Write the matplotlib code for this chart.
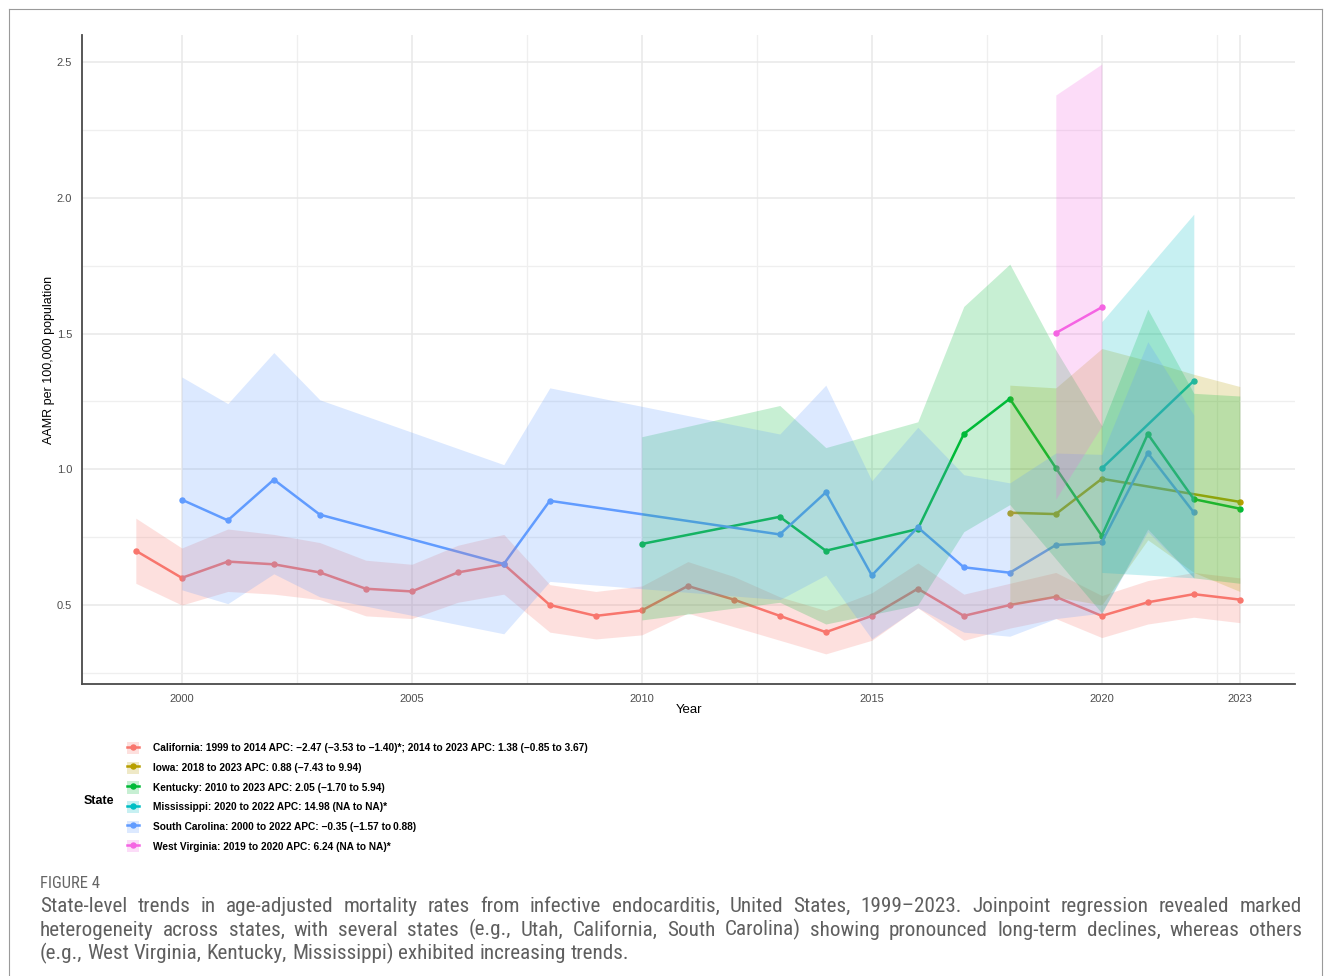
import matplotlib.pyplot as plt
from matplotlib import font_manager
from matplotlib.lines import Line2D
from matplotlib.patches import Patch

W, H = 1331, 976

# ---- data ----
ca_years = [1999, 2000, 2001, 2002, 2003, 2004, 2005, 2006, 2007, 2008, 2009, 2010, 2011,
            2012, 2013, 2014, 2015, 2016, 2017, 2018, 2019, 2020, 2021, 2022, 2023]
ca_rate = [0.70, 0.60, 0.66, 0.65, 0.62, 0.56, 0.55, 0.62, 0.65, 0.50, 0.46, 0.48, 0.57,
           0.52, 0.46, 0.40, 0.46, 0.56, 0.46, 0.50, 0.53, 0.46, 0.51, 0.54, 0.52]
ca_lo = [0.58, 0.50, 0.55, 0.54, 0.52, 0.46, 0.45, 0.51, 0.54, 0.40, 0.375, 0.39, 0.47,
         0.42, 0.37, 0.32, 0.37, 0.49, 0.37, 0.415, 0.45, 0.38, 0.43, 0.455, 0.435]
ca_hi = [0.82, 0.71, 0.78, 0.76, 0.73, 0.665, 0.65, 0.72, 0.76, 0.575, 0.55, 0.57, 0.66,
         0.605, 0.53, 0.48, 0.545, 0.655, 0.54, 0.58, 0.62, 0.535, 0.59, 0.62, 0.60]

ia_years = [2018, 2019, 2020, 2023]
ia_rate = [0.84, 0.835, 0.965, 0.88]
ia_band_years = [2018, 2019, 2020, 2021, 2022, 2023]
ia_lo = [0.50, 0.53, 0.50, 0.74, 0.62, 0.55]
ia_hi = [1.31, 1.30, 1.445, 1.40, 1.35, 1.305]

ky_years = [2010, 2013, 2014, 2016, 2017, 2018, 2019, 2020, 2021, 2022, 2023]
ky_rate = [0.725, 0.825, 0.70, 0.78, 1.13, 1.26, 1.005, 0.755, 1.13, 0.89, 0.855]
ky_lo = [0.445, 0.51, 0.43, 0.50, 0.77, 0.87, 0.67, 0.47, 0.78, 0.60, 0.58]
ky_hi = [1.12, 1.235, 1.08, 1.175, 1.60, 1.756, 1.44, 1.16, 1.59, 1.28, 1.27]

ms_years = [2020, 2022]
ms_rate = [1.003, 1.326]
ms_lo = [0.62, 0.60]
ms_hi = [1.544, 1.94]

sc_years = [2000, 2001, 2002, 2003, 2007, 2008, 2013, 2014, 2015, 2016, 2017, 2018,
            2019, 2020, 2021, 2022]
sc_rate = [0.888, 0.812, 0.962, 0.833, 0.651, 0.884, 0.760, 0.915, 0.609, 0.786, 0.639,
           0.619, 0.721, 0.731, 1.060, 0.841]
sc_lo = [0.556, 0.505, 0.615, 0.53, 0.394, 0.587, 0.52, 0.61, 0.375, 0.49, 0.40, 0.385,
         0.45, 0.47, 0.77, 0.60]
sc_hi = [1.34, 1.242, 1.43, 1.256, 1.017, 1.30, 1.13, 1.31, 0.958, 1.155, 0.98, 0.95,
         1.06, 1.055, 1.47, 1.20]

wv_years = [2019, 2020]
wv_rate = [1.502, 1.597]
wv_lo = [0.89, 1.16]
wv_hi = [2.379, 2.493]

labels = [
    "California: 1999 to 2014 APC: \u22122.47 (\u22123.53 to \u22121.40)*; 2014 to 2023 APC: 1.38 (\u22120.85 to 3.67)",
    "Iowa: 2018 to 2023 APC: 0.88 (\u22127.43 to 9.94)",
    "Kentucky: 2010 to 2023 APC: 2.05 (\u22121.70 to 5.94)",
    "Mississippi: 2020 to 2022 APC: 14.98 (NA to NA)*",
    "South Carolina: 2000 to 2022 APC: \u22120.35 (\u22121.57 to\u20090.88)",
    "West Virginia: 2019 to 2020 APC: 6.24 (NA to NA)*",
]
colors = ["#F8766D", "#B79F00", "#00BA38", "#00BFC4", "#619CFF", "#F564E3"]

caption_lines = [
    "State-level trends in age-adjusted mortality rates from infective endocarditis, "
    "United States, 1999\u20132023. Joinpoint regression revealed marked",
    "heterogeneity across states, with several states (e.g., Utah, California, South "
    "Carolina) showing pronounced long-term declines, whereas others",
    "(e.g., West Virginia, Kentucky, Mississippi) exhibited increasing trends.",
]

plt.rcParams['font.family'] = ['Liberation Sans', 'DejaVu Sans']

fig = plt.figure(figsize=(W / 100, H / 100), dpi=100)
ax = fig.add_axes([82 / W, 1 - 684 / H, (1295 - 82) / W, (684 - 35) / H])

bands = [(ca_years, ca_lo, ca_hi), (ia_band_years, ia_lo, ia_hi), (ky_years, ky_lo, ky_hi),
         (ms_years, ms_lo, ms_hi), (sc_years, sc_lo, sc_hi), (wv_years, wv_lo, wv_hi)]
lines = [(ca_years, ca_rate), (ia_years, ia_rate), (ky_years, ky_rate),
         (ms_years, ms_rate), (sc_years, sc_rate), (wv_years, wv_rate)]

# lines first, ribbons drawn over them (as in the source figure)
for (x, y), c in zip(lines, colors):
    ax.plot(x, y, color=c, lw=1.8, marker='o', ms=3.6, zorder=2)
for (x, lo, hi), c in zip(bands, colors):
    ax.fill_between(x, lo, hi, color=c, alpha=0.22, lw=0, zorder=3)

ax.set_xlim(1997.83, 2024.2)
ax.set_ylim(0.209, 2.6)
ax.set_xticks([2000, 2005, 2010, 2015, 2020, 2023])
ax.set_xticks([2002.5, 2007.5, 2012.5, 2017.5, 2022.5], minor=True)
ax.set_yticks([0.5, 1.0, 1.5, 2.0, 2.5])
ax.set_yticks([0.25, 0.75, 1.25, 1.75, 2.25], minor=True)
ax.grid(which='major', color='#e8e8e8', lw=1.1)
ax.grid(which='minor', color='#efefef', lw=0.9)
ax.set_axisbelow(True)
for s in ['top', 'right']:
    ax.spines[s].set_visible(False)
for s in ['left', 'bottom']:
    ax.spines[s].set_color('#4a4a4a')
    ax.spines[s].set_linewidth(1.3)
    ax.spines[s].set_zorder(5)
ax.tick_params(which='both', length=0, labelsize=8, labelcolor='#4d4d4d', pad=7)

fig.text(689 / W, 1 - 710 / H, 'Year', ha='center', va='center', size=9.5)
fig.text(49 / W, 1 - 360 / H, 'AAMR per 100,000 population', rotation=90,
         ha='center', va='center', size=9)

# legend
handles = [(Line2D([], [], color=c, lw=1.8, marker='o', ms=3.6),
            Patch(facecolor=c, alpha=0.22, edgecolor='none')) for c in colors]
fig.legend(handles, labels, loc='upper left', bbox_to_anchor=(127 / W, 1 - 742 / H),
           frameon=False, prop={'weight': 'bold', 'size': 7.25}, handlelength=1.2,
           handleheight=1.5, labelspacing=0.73, handletextpad=1.35,
           borderpad=0, borderaxespad=0)
fig.text(84 / W, 1 - 801 / H, 'State', weight='bold', size=9, va='center')

# frame
for xs, ys in [([9, 9], [9, H]), ([9, 1322], [9, 9]), ([1322, 1322], [9, H])]:
    fig.add_artist(Line2D([v / W for v in xs], [1 - v / H for v in ys],
                          color='#9a9a9a', lw=0.8))

# caption
names = {f.name for f in font_manager.fontManager.ttflist}
cap_font = 'Liberation Sans'
cap_size, fig_size = 12, 9
for name in ['Roboto Condensed', 'Open Sans Condensed', 'Liberation Sans Narrow']:
    if name in names:
        cap_font, cap_size, fig_size = name, 15.2, 12
        break
fig.text(40 / W, 1 - 883 / H, 'FIGURE 4', size=fig_size, color='#666666', va='center',
         family=cap_font)

renderer = fig.canvas.get_renderer()
x0, x1 = 40, 1302
probe = fig.text(0, 0, 'a b', size=cap_size, family=cap_font)
probe2 = fig.text(0, 0, 'ab', size=cap_size, family=cap_font)
space = probe.get_window_extent(renderer).width - probe2.get_window_extent(renderer).width
probe.remove()
probe2.remove()

for i, line in enumerate(caption_lines):
    y = 912 + i * 23.5
    texts = [fig.text(0, 1 - y / H, w, size=cap_size, family=cap_font, color='#5f5f5f',
                      va='baseline') for w in line.split(' ')]
    widths = [t.get_window_extent(renderer).width for t in texts]
    last = i == len(caption_lines) - 1
    gap = space if last else max(space, (x1 - x0 - sum(widths)) / (len(texts) - 1))
    x = x0
    for t, w in zip(texts, widths):
        t.set_x(x / W)
        x += w + gap

fig.savefig('out.png', dpi=100, facecolor='white')
